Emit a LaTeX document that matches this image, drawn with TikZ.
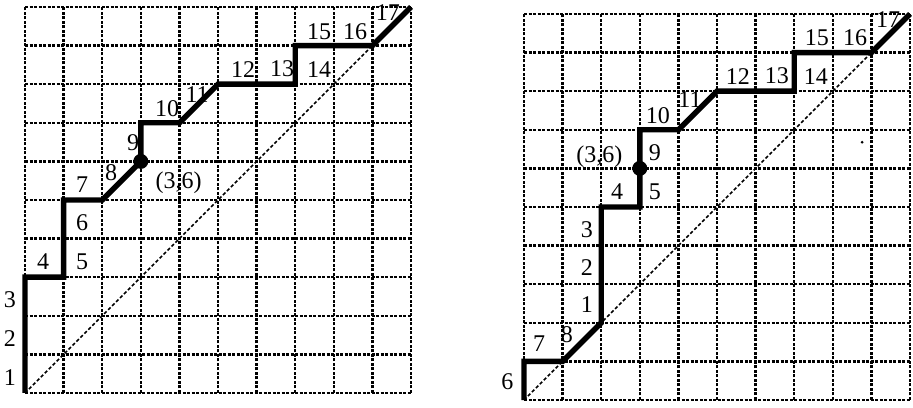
\documentclass[tikz,border=0pt]{standalone}
\usepackage{fontspec}
\setmainfont{Liberation Serif}
\tikzset{
  gridline/.style={line width=2.4pt, dash pattern=on 3pt off 1.5pt},
  diagline/.style={line width=1.6pt, dash pattern=on 3.4pt off 2.2pt},
  pathline/.style={line width=5.4pt, line join=miter},
  lab/.style={font=\fontsize{24}{24}\selectfont, inner sep=0pt},
  bigdot/.style={circle, fill=black, inner sep=0pt, minimum size=15pt},
}
\begin{document}
\begin{tikzpicture}
\useasboundingbox (0pt,0pt) rectangle (913pt,407pt);
% ---------------- left grid ----------------
\begin{scope}[shift={(25pt,14pt)}, x=38.6pt, y=38.6pt]
  \foreach \i in {0,...,10} {
    \draw[gridline] (\i,0) -- (\i,10);
    \draw[gridline] (0,\i) -- (10,\i);
  }
  \coordinate (La) at (0,0);
  \coordinate (Lb) at (0,3);
  \coordinate (Lc) at (1,3);
  \coordinate (Ld) at (1,5);
  \coordinate (Le) at (2,5);
  \coordinate (Lf) at (3,6);
  \coordinate (Lg) at (3,7);
  \coordinate (Lh) at (4,7);
  \coordinate (Li) at (5,8);
  \coordinate (Lj) at (7,8);
  \coordinate (Lk) at (7,9);
  \coordinate (Ll) at (9,9);
  \coordinate (Lm) at (10,10);
  \draw[diagline] (La) -- (Lm);
  \draw[pathline] (La) -- (Lb) -- (Lc) -- (Ld) -- (Le) -- (Lf) -- (Lg) -- (Lh) -- (Li) -- (Lj) -- (Lk) -- (Ll) -- (Lm);
  \node[bigdot] (Ldot) at (Lf) {};
  \node[lab] (L1) at (-0.39,0.41) {1};
  \node[lab] (L2) at (-0.39,1.42) {2};
  \node[lab] (L3) at (-0.39,2.41) {3};
  \node[lab] (L4) at (0.47,3.40) {4};
  \node[lab] (L5) at (1.48,3.39) {5};
  \node[lab] (L6) at (1.48,4.40) {6};
  \node[lab] (L7) at (1.48,5.40) {7};
  \node[lab] (L8) at (2.23,5.72) {8};
  \node[lab] (L9) at (2.80,6.48) {9};
  \node[lab] (Lpt) at (3.98,5.45) {(3,6)};
  \node[lab] (L10) at (3.68,7.36) {10};
  \node[lab] (L11) at (4.46,7.74) {11};
  \node[lab] (L12) at (5.65,8.39) {12};
  \node[lab] (L13) at (6.66,8.39) {13};
  \node[lab] (L14) at (7.62,8.37) {14};
  \node[lab] (L15) at (7.62,9.36) {15};
  \node[lab] (L16) at (8.55,9.36) {16};
  \node[lab] (L17) at (9.40,9.86) {17};
\end{scope}
% ---------------- right grid ----------------
\begin{scope}[shift={(524pt,7pt)}, x=38.6pt, y=38.6pt]
  \foreach \i in {0,...,10} {
    \draw[gridline] (\i,0) -- (\i,10);
    \draw[gridline] (0,\i) -- (10,\i);
  }
  \coordinate (Ra) at (0,0);
  \coordinate (Rb) at (0,1);
  \coordinate (Rc) at (1,1);
  \coordinate (Rd) at (2,2);
  \coordinate (Re) at (2,5);
  \coordinate (Rf) at (3,5);
  \coordinate (Rg) at (3,7);
  \coordinate (Rh) at (4,7);
  \coordinate (Ri) at (5,8);
  \coordinate (Rj) at (7,8);
  \coordinate (Rk) at (7,9);
  \coordinate (Rl) at (9,9);
  \coordinate (Rm) at (10,10);
  \coordinate (Rdotpos) at (3,6);
  \draw[diagline] (Ra) -- (Rm);
  \draw[pathline] (Ra) -- (Rb) -- (Rc) -- (Rd) -- (Re) -- (Rf) -- (Rg) -- (Rh) -- (Ri) -- (Rj) -- (Rk) -- (Rl) -- (Rm);
  \node[bigdot] (Rdot) at (Rdotpos) {};
  \node[circle, fill=black, inner sep=0pt, minimum size=3pt] (Rspeck) at (8.76,6.68) {};
  \node[lab] (R6) at (-0.43,0.47) {6};
  \node[lab] (R7) at (0.39,1.45) {7};
  \node[lab] (R8) at (1.11,1.70) {8};
  \node[lab] (R1) at (1.63,2.46) {1};
  \node[lab] (R2) at (1.63,3.42) {2};
  \node[lab] (R3) at (1.63,4.40) {3};
  \node[lab] (R4) at (2.41,5.39) {4};
  \node[lab] (R5) at (3.39,5.39) {5};
  \node[lab] (R9) at (3.39,6.42) {9};
  \node[lab] (Rpt) at (1.95,6.30) {(3,6)};
  \node[lab] (R10) at (3.47,7.37) {10};
  \node[lab] (R11) at (4.30,7.77) {11};
  \node[lab] (R12) at (5.54,8.39) {12};
  \node[lab] (R13) at (6.55,8.39) {13};
  \node[lab] (R14) at (7.56,8.37) {14};
  \node[lab] (R15) at (7.59,9.38) {15};
  \node[lab] (R16) at (8.58,9.38) {16};
  \node[lab] (R17) at (9.43,9.86) {17};
\end{scope}
\end{tikzpicture}
\end{document}
